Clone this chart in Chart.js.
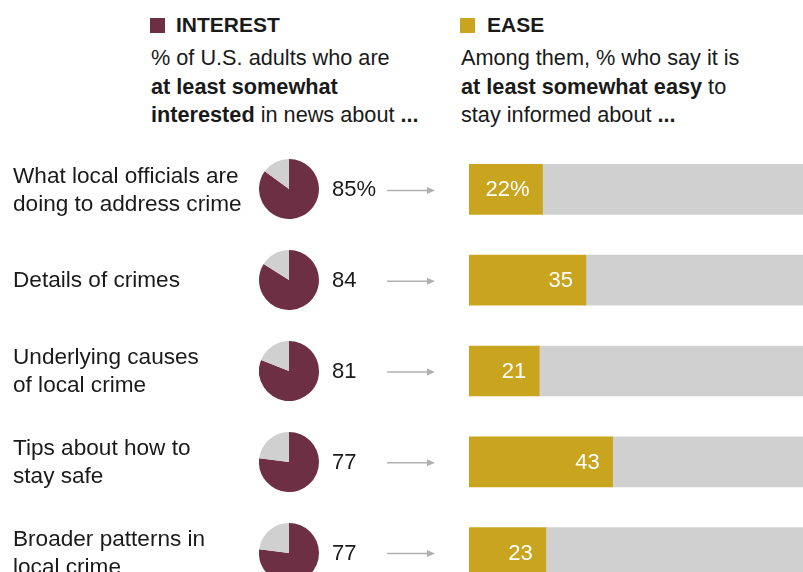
<!DOCTYPE html>
<html>
<head>
<meta charset="utf-8">
<script src="https://cdn.jsdelivr.net/npm/chart.js@4.4.1/dist/chart.umd.min.js"></script>
<style>
  body { margin: 0; width: 803px; height: 572px; overflow: hidden; background: #fff;
         font-family: "Liberation Sans", Arial, sans-serif; color: #1a1a1a; }
  #wrap { position: relative; width: 803px; height: 600px; }
  #main { position: absolute; left: 0; top: 0; }
  .pie { position: absolute; }
  .key { position: absolute; top: 18px; width: 15px; height: 15px; }
  .title { position: absolute; top: 12px; font-size: 21px; font-weight: bold; line-height: 26px; }
  .sub { position: absolute; top: 44px; font-size: 21.7px; line-height: 28.5px; white-space: nowrap; }
</style>
</head>
<body>
<div id="wrap">
  <div class="key" style="left:150px;background:#6d2f43"></div>
  <div class="title" style="left:176px">INTEREST</div>
  <div class="sub" style="left:151px">% of U.S. adults who are<br><b>at least somewhat</b><br><b>interested</b> in news about <b>...</b></div>
  <div class="key" style="left:460px;background:#c9a41e"></div>
  <div class="title" style="left:487px">EASE</div>
  <div class="sub" style="left:461px">Among them, % who say it is<br><b>at least somewhat easy</b> to<br>stay informed about <b>...</b></div>
  <canvas id="main" width="803" height="600"></canvas>
</div>
<script>
// topics (two lines each where the label wraps)
const topics = [
  ['What local officials are', 'doing to address crime'],
  ['Details of crimes'],
  ['Underlying causes', 'of local crime'],
  ['Tips about how to', 'stay safe'],
  ['Broader patterns in', 'local crime']
];
// % at least somewhat interested
const interest = [85, 84, 81, 77, 77];
const interestLabels = ['85%', '84', '81', '77', '77'];
// among them, % saying it is at least somewhat easy to stay informed
const ease = [22, 35, 21, 43, 23];
const easeLabels = ['22%', '35', '21', '43', '23'];

const MAROON = '#6d2f43';
const GOLD = '#c9a41e';
const GRAY = '#d0d0d0';
const FONT = '"Liberation Sans", Arial, sans-serif';

const rowText = {
  id: 'rowText',
  afterDatasetsDraw(chart) {
    const ctx = chart.ctx;
    const y = chart.scales.y;
    const bars = chart.getDatasetMeta(0).data;
    ctx.save();
    topics.forEach((lines, i) => {
      const cy = y.getPixelForValue(i);
      ctx.fillStyle = '#1a1a1a';
      ctx.font = '22.6px ' + FONT;
      ctx.textBaseline = 'middle';
      ctx.textAlign = 'left';
      lines.forEach((t, j) => {
        ctx.fillText(t, 13, cy + (j - (lines.length - 1) / 2) * 28 + 1);
      });
      ctx.font = '22px ' + FONT;
      ctx.fillText(interestLabels[i], 332, cy + 1);

      // arrow
      ctx.strokeStyle = '#b0b0b0';
      ctx.fillStyle = '#b0b0b0';
      ctx.lineWidth = 1.5;
      ctx.beginPath();
      ctx.moveTo(387, cy + 1);
      ctx.lineTo(429, cy + 1);
      ctx.stroke();
      ctx.beginPath();
      ctx.moveTo(435, cy + 1);
      ctx.lineTo(427, cy - 2.5);
      ctx.lineTo(427, cy + 4.5);
      ctx.closePath();
      ctx.fill();

      // value inside the gold bar
      ctx.fillStyle = '#fff';
      ctx.textAlign = 'right';
      ctx.fillText(easeLabels[i], bars[i].x - 13, cy + 1);
    });
    ctx.restore();
  }
};

const main = new Chart(document.getElementById('main'), {
  type: 'bar',
  data: {
    labels: topics.map(t => t.join(' ')),
    datasets: [
      { data: ease, backgroundColor: GOLD, barThickness: 50, borderWidth: 0 },
      { data: ease.map(v => 100 - v), backgroundColor: GRAY, barThickness: 50, borderWidth: 0 }
    ]
  },
  options: {
    indexAxis: 'y',
    responsive: false,
    animation: false,
    layout: { padding: { left: 469, right: 0, top: 144, bottom: 2 } },
    scales: {
      x: { display: false, stacked: true, min: 0, max: 100 },
      y: { display: false, stacked: true }
    },
    plugins: { legend: { display: false }, tooltip: { enabled: false } }
  },
  plugins: [rowText]
});

// one small pie per row, placed on the bar chart's category positions
const wrap = document.getElementById('wrap');
interest.forEach((v, i) => {
  const c = document.createElement('canvas');
  c.className = 'pie';
  c.width = 60;
  c.height = 60;
  const cy = main.scales.y.getPixelForValue(i);
  c.style.left = (289 - 30) + 'px';
  c.style.top = (cy - 30) + 'px';
  wrap.appendChild(c);
  new Chart(c, {
    type: 'pie',
    data: {
      labels: ['Interested', 'Not'],
      datasets: [{ data: [v, 100 - v], backgroundColor: [MAROON, GRAY], borderWidth: 0 }]
    },
    options: {
      responsive: false,
      animation: false,
      plugins: { legend: { display: false }, tooltip: { enabled: false } }
    }
  });
});
</script>
</body>
</html>
